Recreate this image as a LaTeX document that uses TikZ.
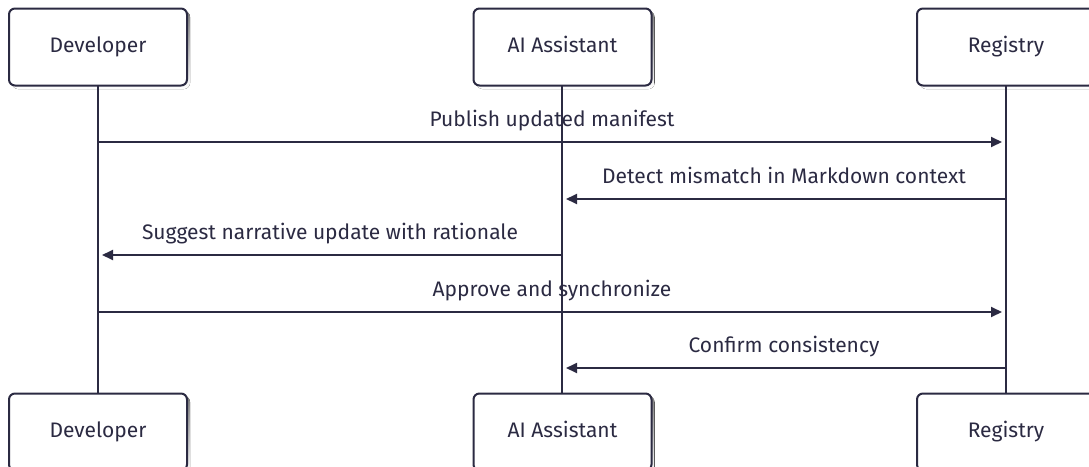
\documentclass[tikz,border=0pt]{standalone}
\usepackage{fontspec}
\setmainfont{Fira Sans}
\usetikzlibrary{arrows.meta,calc}
\definecolor{ink}{HTML}{2B2A42}
\definecolor{shade}{HTML}{E8E8E8}
\tikzset{
  actor/.style={draw=ink, line width=2pt, fill=white, rounded corners=6pt,
    minimum width=178pt, minimum height=77pt, inner sep=0pt,
    text height=15pt, text depth=4pt,
    font=\fontsize{21}{25}\selectfont, text=ink},
  lifeline/.style={draw=ink, line width=2pt},
  msg/.style={draw=ink, line width=1.8pt, -{Triangle[length=11pt,width=10pt]}, shorten >=4pt},
  msglabel/.style={font=\fontsize{21}{25}\selectfont, text=ink, inner sep=0pt,
    text height=15pt, text depth=4pt},
}
\begin{document}
\begin{tikzpicture}[x=1pt,y=-1pt]
\useasboundingbox (0,0) rectangle (1089,466);
% drop shadows behind the participant boxes
\foreach \cx in {98,562.5,1006}{
  \fill[shade, rounded corners=6pt] (\cx-86,11) rectangle (\cx+92,89);
  \fill[shade, rounded corners=6pt] (\cx-86,396) rectangle (\cx+92,474);
}
% lifelines
\coordinate (devT) at (98,86);   \coordinate (devB) at (98,393);
\coordinate (aiT) at (562,86);   \coordinate (aiB) at (562,393);
\coordinate (regT) at (1006,86); \coordinate (regB) at (1006,393);
\draw[lifeline] (devT) -- (devB);
\draw[lifeline] (aiT) -- (aiB);
\draw[lifeline] (regT) -- (regB);
% participants
\node[actor] (dev1) at (98,47) {Developer};
\node[actor] (ai1) at (562.5,47) {AI Assistant};
\node[actor] (reg1) at (1006,47) {Registry};
\node[actor] (dev2) at (98,432) {Developer};
\node[actor] (ai2) at (562.5,432) {AI Assistant};
\node[actor] (reg2) at (1006,432) {Registry};
% message anchors on the lifelines
\foreach \n/\y in {1/142,2/199,3/255,4/312,5/368}{
  \coordinate (d\n) at (98,\y);
  \coordinate (a\n) at (562,\y);
  \coordinate (r\n) at (1006,\y);
}
% messages
\draw[msg] (d1) -- (r1);
\node[msglabel] (m1) at ($(d1)!0.5!(r1)+(0,-21)$) {Publish updated manifest};
\draw[msg] (r2) -- (a2);
\node[msglabel] (m2) at ($(a2)!0.5!(r2)+(0,-21)$) {Detect mismatch in Markdown context};
\draw[msg] (a3) -- (d3);
\node[msglabel] (m3) at ($(d3)!0.5!(a3)+(0,-21)$) {Suggest narrative update with rationale};
\draw[msg] (d4) -- (r4);
\node[msglabel] (m4) at ($(d4)!0.5!(r4)+(0,-21)$) {Approve and synchronize};
\draw[msg] (r5) -- (a5);
\node[msglabel] (m5) at ($(a5)!0.5!(r5)+(0,-21)$) {Confirm consistency};
\end{tikzpicture}
\end{document}
